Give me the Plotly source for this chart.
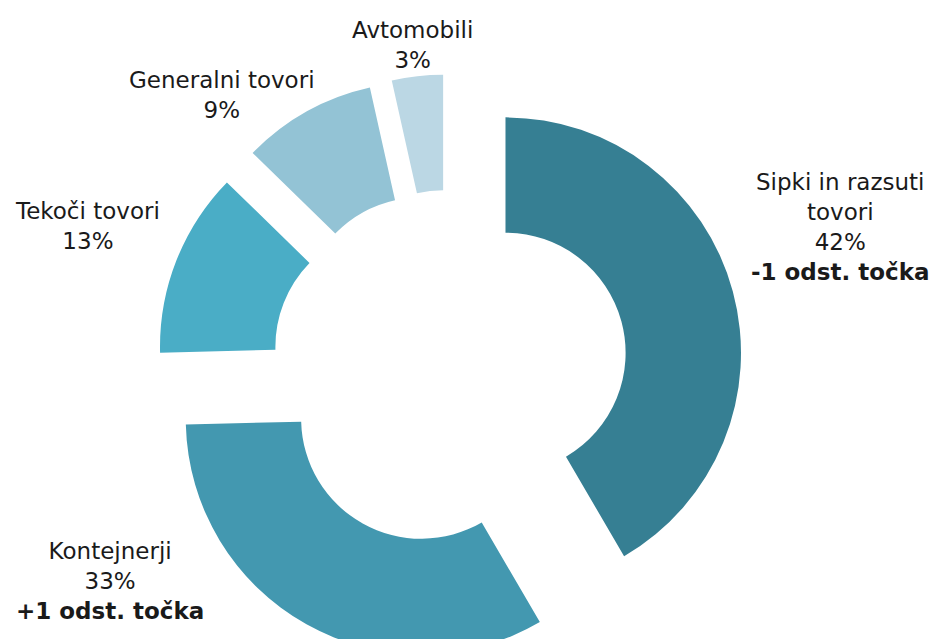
import plotly.graph_objects as go

# ---- data ----
categories = ["Sipki in razsuti tovori", "Kontejnerji", "Tekoči tovori",
              "Generalni tovori", "Avtomobili"]
label_text = ["Sipki in razsuti<br>tovori", "Kontejnerji", "Tekoči tovori",
              "Generalni tovori", "Avtomobili"]
shares = [41.6, 33.0, 12.7, 9.2, 3.5]          # slice sizes
pct_labels = [42, 33, 13, 9, 3]                 # percentages as printed
changes = ["-1 odst. točka", "+1 odst. točka", "", "", ""]
colors = ["#367F93", "#4398B0", "#4AADC6", "#93C3D5", "#BBD7E4"]

# ---- layout helpers (pixel geometry, page has an 8px body margin) ----
OFF = 8
W, H = 943, 720
CX, CY = 449.5 - OFF, 368 - OFF
BOX = 587

def px(x):
    return (x - OFF) / W

def py(y):
    return 1 - (y - OFF) / H

fig = go.Figure(go.Pie(
    labels=categories,
    values=shares,
    hole=0.51,
    sort=False,
    direction="clockwise",
    rotation=0,
    pull=0.2463,
    textinfo="none",
    marker=dict(colors=colors, line=dict(width=0)),
    showlegend=False,
    domain=dict(x=[(CX - BOX / 2) / W, (CX + BOX / 2) / W],
                y=[1 - (CY + BOX / 2) / H, 1 - (CY - BOX / 2) / H]),
))

label_pos = [(840, 227), (110, 581), (87, 226), (222, 95), (412, 45)]
for lab, pct, ch, (x, y) in zip(label_text, pct_labels, changes, label_pos):
    txt = f"{lab}<br>{pct}%"
    if ch:
        txt += f"<br><b>{ch}</b>"
    fig.add_annotation(x=px(x), y=py(y), xref="paper", yref="paper",
                       text=txt, showarrow=False, xanchor="center",
                       yanchor="middle", align="center",
                       font=dict(family="DejaVu Sans", size=23, color="#1a1a1a"))

fig.update_layout(width=W, height=H, margin=dict(l=0, r=0, t=0, b=0),
                  paper_bgcolor="white", plot_bgcolor="white")
fig.write_html("out.html")
